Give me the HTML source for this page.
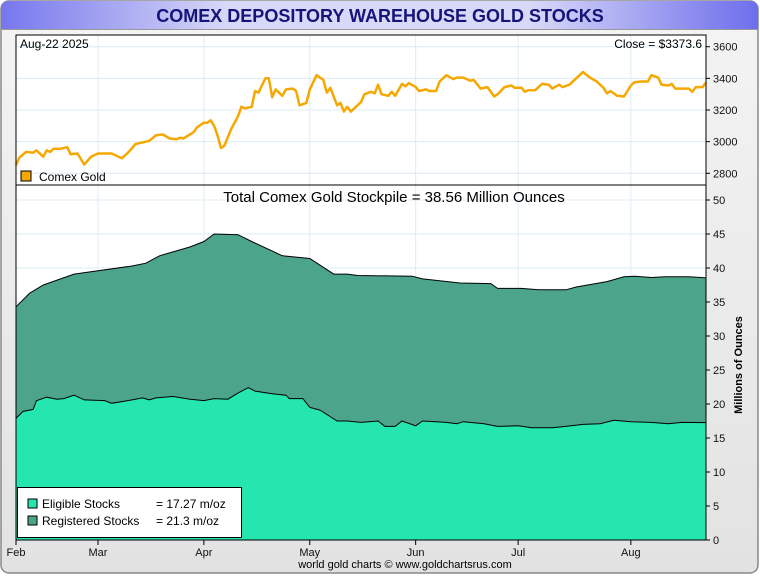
<!DOCTYPE html>
<html><head><meta charset="utf-8"><style>
body{margin:0;width:760px;height:575px;overflow:hidden;background:#fff;font-family:"Liberation Sans",sans-serif}
svg text{font-family:"Liberation Sans",sans-serif}
</style></head><body>
<svg id="chart" width="760" height="575" viewBox="0 0 760 575">
<defs>
<linearGradient id="bg" x1="0" y1="0" x2="0" y2="1"><stop offset="0" stop-color="#f4f4f4"/><stop offset="1" stop-color="#e2e2e2"/></linearGradient>
<linearGradient id="tb" x1="0" y1="0" x2="1" y2="0"><stop offset="0" stop-color="#7777ee"/><stop offset="0.3" stop-color="#d8d8f8"/><stop offset="0.7" stop-color="#d8d8f8"/><stop offset="1" stop-color="#6e6eec"/></linearGradient>
</defs>
<rect x="1" y="1" width="757" height="572" rx="8" fill="url(#bg)" stroke="#888" stroke-width="1.5"/>
<path d="M1,29 L1,9 Q1,1 9,1 L750,1 Q758,1 758,9 L758,29 Z" fill="url(#tb)"/>
<line x1="1" y1="29.5" x2="758" y2="29.5" stroke="#999"/>
<text x="380" y="22" text-anchor="middle" font-size="18" font-weight="bold" fill="#14147a">COMEX DEPOSITORY WAREHOUSE GOLD STOCKS</text>
<rect x="16" y="35" width="690" height="505" fill="#fff"/>
<g id="grid"></g>
<g id="areas"></g>
<g id="price"></g>
<rect x="16" y="35" width="690" height="505" fill="none" stroke="#000"/>
<line x1="16" y1="185" x2="706" y2="185" stroke="#000"/>
<g id="axes" font-size="11" fill="#111"></g>
<text x="20" y="48" font-size="12">Aug-22  2025</text>
<text x="702" y="48" font-size="12" text-anchor="end">Close = $3373.6</text>
<rect x="21" y="171" width="10" height="10" fill="#f5a800" stroke="#000"/>
<text x="39" y="181" font-size="12">Comex Gold</text>
<text x="394" y="202" font-size="15" text-anchor="middle">Total Comex Gold Stockpile = 38.56 Million Ounces</text>
<text transform="translate(742,365) rotate(-90)" font-size="11" font-weight="bold" text-anchor="middle">Millions of Ounces</text>
<g>
<rect x="17.5" y="487.5" width="224" height="50" fill="#fff" stroke="#000"/>
<rect x="28" y="499" width="9" height="9" fill="#26e6b0" stroke="#000"/>
<text x="42" y="508" font-size="12">Eligible Stocks</text>
<text x="156" y="508" font-size="12">= 17.27 m/oz</text>
<rect x="28" y="516" width="9" height="9" fill="#4ca58a" stroke="#000"/>
<text x="42" y="525" font-size="12">Registered Stocks</text>
<text x="156" y="525" font-size="12">= 21.3 m/oz</text>
</g>
<text x="405" y="568" font-size="11" text-anchor="middle">world gold charts © www.goldchartsrus.com</text>
</svg>
<script>
const priceDays=[0,1,3,5,6,8,9,10,11,13,15,16,18,20,22,24,28,30,31,33,35,38,39,41,43,45,47,48,49,52,53,55,56,57,58,59,60,61,63,65,66,67,69,70,71,73,74,75,76,78,79,81,82,83,85,86,88,90,91,92,94,95,96,97,98,101,102,104,105,106,107,109,110,111,113,114,115,117,118,120,121,123,124,126,128,129,131,133,134,136,138,140,141,143,145,146,148,149,150,152,154,156,157,159,160,162,164,166,168,170,172,173,174,176,178,180,181,183,185,186,188,189,191,192,193,195,197,198,199,201,202];
const priceValues=[2850,2900,2935,2930,2945,2905,2945,2935,2955,2955,2965,2920,2925,2855,2905,2925,2925,2905,2895,2935,2985,3000,3005,3040,3045,3020,3015,3025,3020,3060,3090,3120,3120,3135,3100,3040,2960,2975,3080,3160,3220,3210,3220,3320,3310,3400,3400,3280,3330,3290,3330,3335,3320,3230,3245,3330,3420,3390,3310,3340,3230,3245,3190,3220,3190,3250,3300,3315,3305,3360,3300,3290,3315,3290,3365,3350,3370,3345,3320,3330,3320,3320,3380,3420,3395,3405,3405,3385,3390,3335,3345,3285,3300,3345,3355,3340,3340,3315,3325,3325,3365,3360,3335,3360,3345,3360,3400,3440,3405,3380,3340,3305,3320,3290,3285,3355,3375,3380,3380,3420,3405,3360,3355,3365,3335,3335,3335,3315,3345,3345,3373.6];
const totalDays=[0,4,8,17,24,34,38,42,51,55,58,65,69,78,86,93,97,100,116,119,130,139,141,148,153,161,164,173,178,181,186,190,197,202];
const totalValues=[34.3,36.3,37.5,39.1,39.6,40.3,40.7,41.8,43.1,43.9,45.0,44.9,43.9,41.8,41.4,39.1,39.1,38.9,38.8,38.4,37.8,37.7,37.0,37.0,36.8,36.8,37.2,38.0,38.7,38.8,38.6,38.7,38.7,38.56];
const eligDays=[0,2,5,6,9,12,14,17,20,26,28,34,37,39,41,46,51,55,58,62,65,68,70,75,79,80,84,86,89,94,97,101,106,108,111,113,117,119,126,129,131,137,141,147,151,157,161,166,171,175,180,186,191,195,202];
const eligValues=[17.9,18.9,19.2,20.5,21.0,20.7,20.8,21.3,20.6,20.5,20.1,20.6,20.9,20.6,20.9,21.1,20.7,20.5,20.8,20.7,21.6,22.4,21.9,21.5,21.3,20.8,20.8,19.5,19.1,17.5,17.5,17.3,17.5,16.7,16.7,17.5,16.8,17.5,17.3,17.1,17.4,17.1,16.7,16.8,16.5,16.5,16.7,17.0,17.1,17.6,17.4,17.3,17.1,17.3,17.27];
const monthLabels=["Feb","Mar","Apr","May","Jun","Jul","Aug"];
const monthDays=[0,24,55,86,117,147,180];
const priceTicks=[2800,3000,3200,3400,3600];
const stockTicks=[0,5,10,15,20,25,30,35,40,45,50];

const NS="http://www.w3.org/2000/svg";
const X=d=>16+d*(690/202);
const YP=v=>46.7+(3600-v)*(126.6/800);
const YS=v=>540-v*6.8;
function mk(tag,attrs,parent){const e=document.createElementNS(NS,tag);for(const k in attrs)e.setAttribute(k,attrs[k]);document.getElementById(parent).appendChild(e);return e;}

monthDays.forEach((d,i)=>{
  const g=mk('line',{x1:X(d),x2:X(d),y1:35,y2:540,stroke:'#dcecf6'},'grid');
  
  
  const t=mk('line',{x1:X(d),x2:X(d),y1:540,y2:545,stroke:'#000'},'axes');
  
  
  const l=mk('text',{x:X(d),y:556,'text-anchor':'middle'},'axes');l.textContent=monthLabels[i];
  
  
});
priceTicks.forEach(v=>{
  const g=mk('line',{x1:16,x2:706,y1:YP(v),y2:YP(v),stroke:'#dcecf6'},'grid');
  
  
  const t=mk('line',{x1:706,x2:710,y1:YP(v),y2:YP(v),stroke:'#000'},'axes');
  
  
  const l=mk('text',{x:713,y:YP(v)+4},'axes');l.textContent=v;
  
  
});
stockTicks.forEach(v=>{
  const g=mk('line',{x1:16,x2:706,y1:YS(v),y2:YS(v),stroke:'#dcecf6'},'grid');
  
  
  const t=mk('line',{x1:706,x2:710,y1:YS(v),y2:YS(v),stroke:'#000'},'axes');
  
  
  const l=mk('text',{x:713,y:YS(v)+4},'axes');l.textContent=v;
  
  
});
function pts(ds,vs,Y){return ds.map((d,i)=>X(d).toFixed(1)+','+Y(vs[i]).toFixed(1)).join(' ');}
const tot=mk('polygon',{points:X(0)+',540 '+pts(totalDays,totalValues,YS)+' '+X(202)+',540',fill:'#4ca58a',stroke:'#000','stroke-width':1},'areas');


const el=mk('polygon',{points:X(0)+',540 '+pts(eligDays,eligValues,YS)+' '+X(202)+',540',fill:'#26e6b0',stroke:'#000','stroke-width':1},'areas');


const pl=mk('polyline',{points:pts(priceDays,priceValues,YP),fill:'none',stroke:'#f5a800','stroke-width':2.5,'stroke-linejoin':'round'},'price');


</script>
</body></html>
